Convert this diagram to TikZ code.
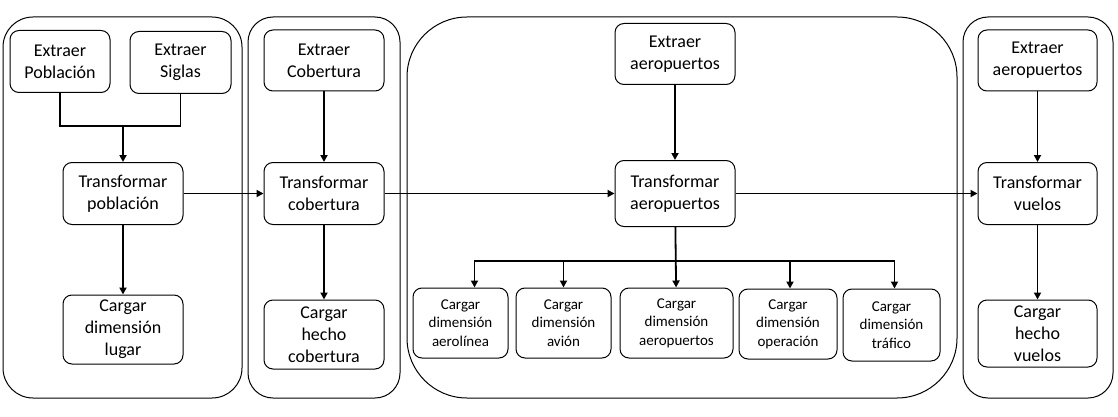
\documentclass[tikz,border=0pt]{standalone}
\usepackage{fontspec}
\setmainfont{Carlito}
\usetikzlibrary{arrows.meta, positioning}

\begin{document}
\begin{tikzpicture}[
    x=1pt, y=-1pt,
    group/.style={rectangle, draw, line width=1pt},
    box/.style={rectangle, draw, rounded corners=9pt, line width=1pt, minimum width=120pt, minimum height=62pt, align=center, font=\fontsize{18}{22}\selectfont},
    smallbox/.style={rectangle, draw, rounded corners=9pt, line width=1pt, minimum height=70pt, align=center, font=\fontsize{15}{18.5}\selectfont},
    line/.style={line width=1.8pt},
    arrow/.style={line width=1.8pt, -{Triangle[length=7pt, width=7pt]}}
]
    \useasboundingbox (0,0) rectangle (1118,417);

    % Groups
    \node[group, rounded corners=30pt, minimum width=239pt, minimum height=381pt] (g1) at (122.5,207.5) {};
    \node[group, rounded corners=25pt, minimum width=152pt, minimum height=381pt] (g2) at (324,207.5) {};
    \node[group, rounded corners=60pt, minimum width=550pt, minimum height=381pt] (g3) at (682,207.5) {};
    \node[group, rounded corners=25pt, minimum width=150pt, minimum height=381pt] (g4) at (1038,207.5) {};

    % Poblacion
    \node[box, minimum width=100pt] (expob) at (60,61.5) {Extraer\\Población};
    \node[box, minimum width=101pt] (exsig) at (180.5,62.5) {Extraer\\Siglas};
    \node[box] (trpob) at (123,193.5) {Transformar\\población};
    \node[box, minimum height=69pt] (cglug) at (123,329.5) {Cargar\\dimensión\\lugar};

    % Cobertura
    \node[box, minimum height=61pt] (excob) at (324,60.5) {Extraer\\Cobertura};
    \node[box] (trcob) at (324,193.5) {Transformar\\cobertura};
    \node[box, minimum height=69pt] (cgcob) at (324,334.5) {Cargar\\hecho\\cobertura};

    % Aeropuertos
    \node[box, minimum height=61pt] (exaer) at (675,54) {Extraer\\aeropuertos};
    \node[box, minimum height=66pt] (traer) at (675,193.5) {Transformar\\aeropuertos};

    \node[smallbox, minimum width=95pt] (cgaerol) at (460.5,323) {Cargar\\dimensión\\aerolínea};
    \node[smallbox, minimum width=95pt, right=7pt of cgaerol] (cgavion) {Cargar\\dimensión\\avión};
    \node[smallbox, minimum width=113pt, right=8pt of cgavion] (cgaerop) {Cargar\\dimensión\\aeropuertos};
    \node[smallbox, minimum width=98pt, right=5pt of cgaerop, yshift=-1pt] (cgoper) {Cargar\\dimensión\\operación};
    \node[smallbox, minimum width=97pt, minimum height=72pt, right=5pt of cgoper, yshift=-1pt] (cgtraf) {Cargar\\dimensión\\tráfico};

    % Vuelos
    \node[box, minimum width=119pt, minimum height=61pt] (exvue) at (1037.5,60.5) {Extraer\\aeropuertos};
    \node[box, minimum width=119pt] (trvue) at (1037.5,193.5) {Transformar\\vuelos};
    \node[box, minimum width=119pt, minimum height=67pt] (cgvue) at (1037.5,333.5) {Cargar\\hecho\\vuelos};

    % Arrows
    \coordinate (j1) at (123,126);
    \draw[line] (expob) |- (j1) -| (exsig);
    \draw[arrow] (j1) -- (trpob);
    \draw[arrow] (trpob) -- (cglug);
    \draw[arrow] (trpob) -- (trcob);

    \draw[arrow] (excob) -- (trcob);
    \draw[arrow] (trcob) -- (cgcob);
    \draw[arrow] (trcob) -- (traer);

    \draw[arrow] (exaer) -- (traer);
    \draw[arrow] (traer) -- (cgaerop);
    \coordinate (bus) at (675,261);
    \draw[arrow] (bus) -| ([xshift=14pt]cgaerol.north);
    \draw[arrow] (bus) -| (cgavion.north);
    \draw[arrow] (bus) -| ([xshift=2pt]cgoper.north);
    \draw[arrow] (bus) -| ([xshift=3pt]cgtraf.north);
    \draw[arrow] (traer) -- (trvue);

    \draw[arrow] (exvue) -- (trvue);
    \draw[arrow] (trvue) -- (cgvue);

\end{tikzpicture}
\end{document}
